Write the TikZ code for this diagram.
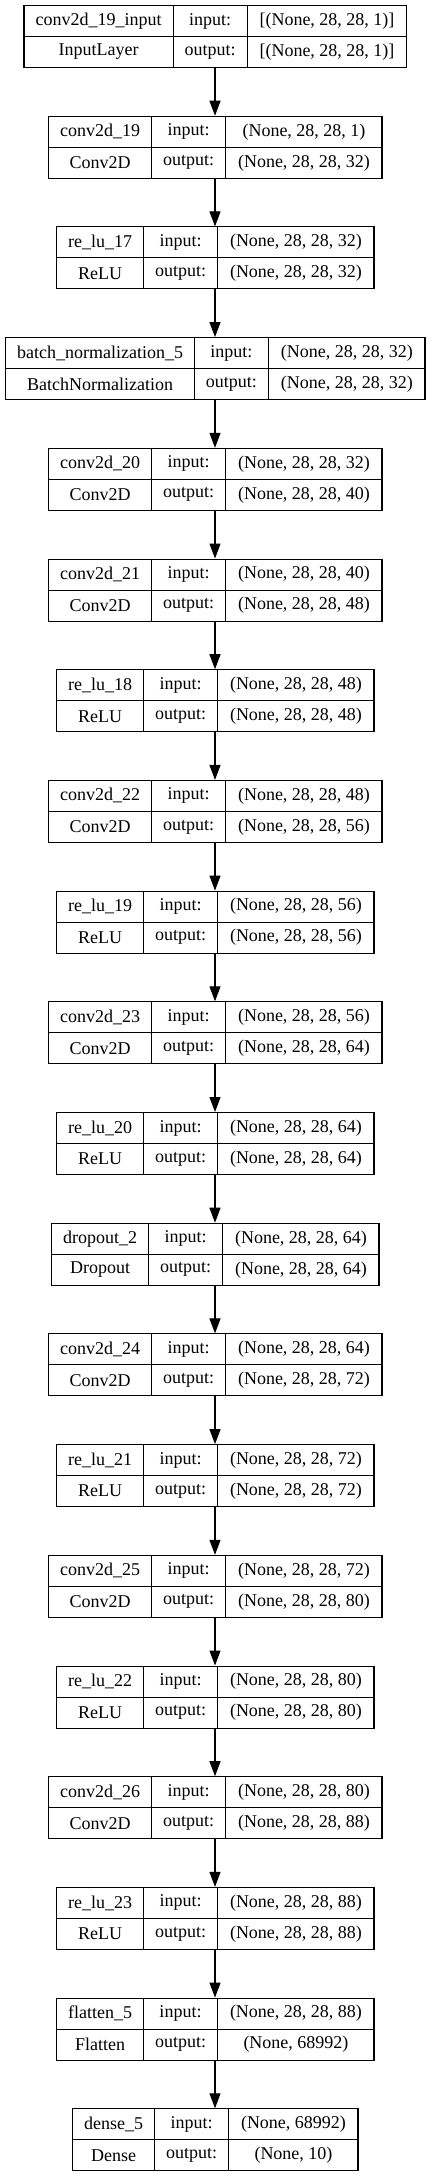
\documentclass[tikz,border=0pt]{standalone}
\usepackage{fontspec}
\setmainfont{Liberation Serif}
\usetikzlibrary{arrows.meta}

\newlength\colA
\newlength\colB
\newlength\colC
\newlength\tmpw
\newcommand\lblfont{\fontsize{18}{21}\selectfont}
% width of a text, measured outside the picture's null font
\newcommand\txtwidth[2]{\settowidth#1{\pgfinterruptpicture\lblfont #2\endpgfinterruptpicture}}
% width of the wider of two texts
\newcommand\widest[3]{\txtwidth#1{#2}\txtwidth\tmpw{#3}\ifdim\tmpw>#1\relax #1=\tmpw\fi}

\begin{document}
\begin{tikzpicture}[x=1pt, y=1pt]

      \tikzset{cell/.style={draw, line width=1pt, inner sep=0pt, font=\lblfont, minimum height=31pt, anchor=north west},
               frame/.style={draw, line width=1pt, inner sep=0pt, minimum height=62pt, anchor=north},
               link/.style={-{Triangle[length=15pt, width=11pt]}, line width=1.1pt}}
      \useasboundingbox (0,0) rectangle (431,-2176);
%% Layers
      \foreach \nm/\ty/\ia/\oa [count=\i from 0] in {
          conv2d\_19\_input/InputLayer/{[(None, 28, 28, 1)]}/{[(None, 28, 28, 1)]},
          conv2d\_19/Conv2D/{(None, 28, 28, 1)}/{(None, 28, 28, 32)},
          re\_lu\_17/ReLU/{(None, 28, 28, 32)}/{(None, 28, 28, 32)},
          batch\_normalization\_5/BatchNormalization/{(None, 28, 28, 32)}/{(None, 28, 28, 32)},
          conv2d\_20/Conv2D/{(None, 28, 28, 32)}/{(None, 28, 28, 40)},
          conv2d\_21/Conv2D/{(None, 28, 28, 40)}/{(None, 28, 28, 48)},
          re\_lu\_18/ReLU/{(None, 28, 28, 48)}/{(None, 28, 28, 48)},
          conv2d\_22/Conv2D/{(None, 28, 28, 48)}/{(None, 28, 28, 56)},
          re\_lu\_19/ReLU/{(None, 28, 28, 56)}/{(None, 28, 28, 56)},
          conv2d\_23/Conv2D/{(None, 28, 28, 56)}/{(None, 28, 28, 64)},
          re\_lu\_20/ReLU/{(None, 28, 28, 64)}/{(None, 28, 28, 64)},
          dropout\_2/Dropout/{(None, 28, 28, 64)}/{(None, 28, 28, 64)},
          conv2d\_24/Conv2D/{(None, 28, 28, 64)}/{(None, 28, 28, 72)},
          re\_lu\_21/ReLU/{(None, 28, 28, 72)}/{(None, 28, 28, 72)},
          conv2d\_25/Conv2D/{(None, 28, 28, 72)}/{(None, 28, 28, 80)},
          re\_lu\_22/ReLU/{(None, 28, 28, 80)}/{(None, 28, 28, 80)},
          conv2d\_26/Conv2D/{(None, 28, 28, 80)}/{(None, 28, 28, 88)},
          re\_lu\_23/ReLU/{(None, 28, 28, 88)}/{(None, 28, 28, 88)},
          flatten\_5/Flatten/{(None, 28, 28, 88)}/{(None, 68992)},
          dense\_5/Dense/{(None, 68992)}/{(None, 10)}}{
        \widest\colA{\nm}{\ty}
        \widest\colB{input:}{output:}
        \widest\colC{\ia}{\oa}
        \pgfmathsetmacro\wa{\colA+23}
        \pgfmathsetmacro\wb{\colB+23}
        \pgfmathsetmacro\wc{\colC+25}
        \pgfmathsetmacro\xl{215-(\wa+\wb+\wc)/2}
        \pgfmathsetmacro\yt{-5-110.7*\i}
        \node[frame, minimum width=\wa+\wb+\wc] (box\i) at (215,\yt) {};
        \node[cell, minimum width=\wa] (nm\i) at (\xl,\yt) {\nm};
        \node[cell, minimum width=\wa] (ty\i) at (\xl,\yt-31) {\ty};
        \node[cell, minimum width=\wb] (in\i) at (\xl+\wa,\yt) {input:};
        \node[cell, minimum width=\wb] (out\i) at (\xl+\wa,\yt-31) {output:};
        \node[cell, minimum width=\wc] (ia\i) at (\xl+\wa+\wb,\yt) {\ia};
        \node[cell, minimum width=\wc] (oa\i) at (\xl+\wa+\wb,\yt-31) {\oa};
      }
%Edges
      \foreach \i [evaluate=\i as \j using int(\i+1)] in {0,...,18}
        \draw[link] (box\i.south) -- (box\j.north);

\end{tikzpicture}
\end{document}
